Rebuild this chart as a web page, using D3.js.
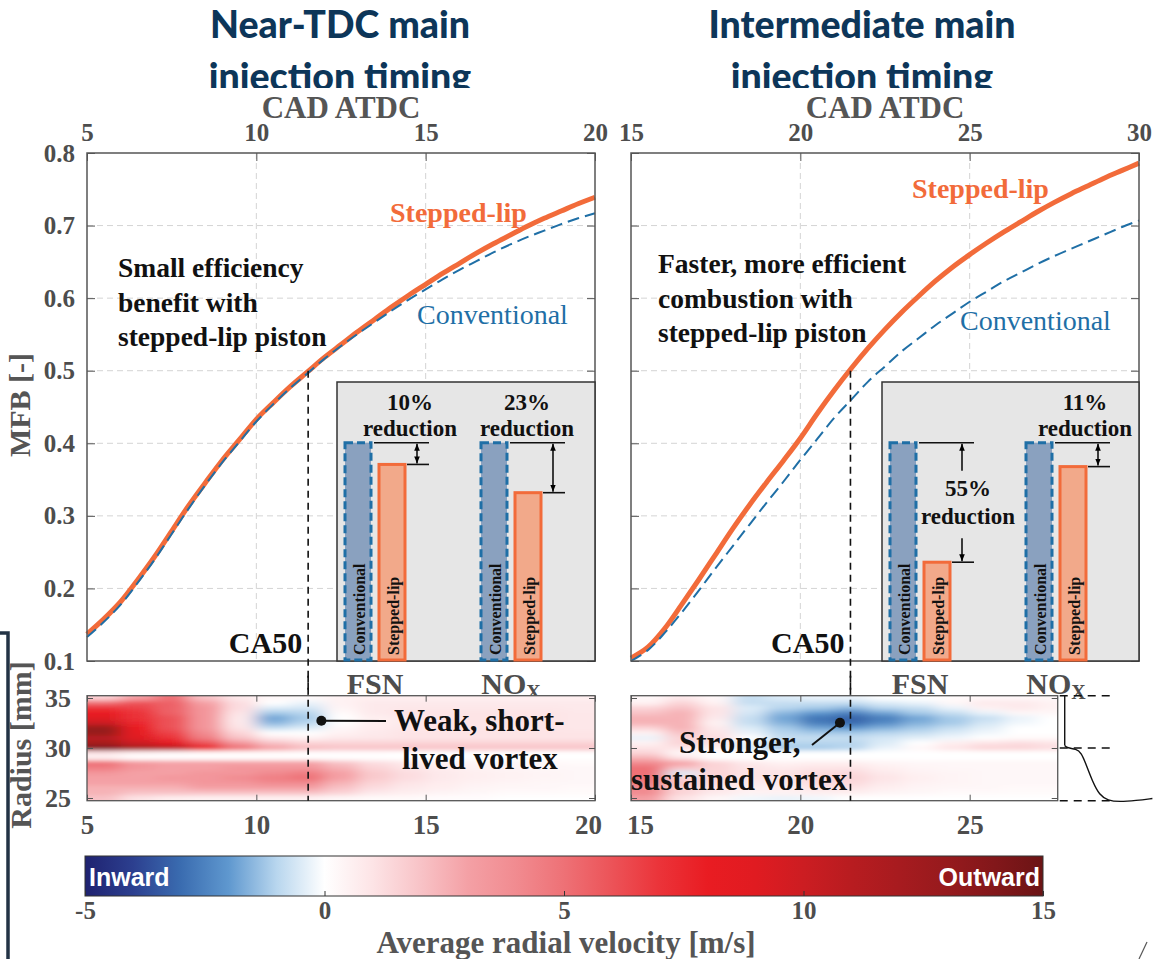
<!DOCTYPE html>
<html><head><meta charset="utf-8">
<script src="https://cdn.jsdelivr.net/npm/d3@7"></script>
<style>body{margin:0;background:#fff} svg{display:block}</style>
</head><body>
<svg id="c" width="1153" height="959"></svg>
<script>
// ---------------- DATA ----------------
const leftCad      = [5,5.5,6,6.5,7,7.5,8,8.5,9,9.5,10,10.5,11,11.5,12,12.5,13,13.5,14,14.5,15,15.5,16,16.5,17,17.5,18,18.5,19,19.5,20];
const leftStepped  = [0.137,0.158,0.182,0.212,0.244,0.279,0.314,0.346,0.377,0.405,0.433,0.456,0.478,0.498,0.518,0.536,0.554,0.571,0.588,0.604,0.619,0.634,0.648,0.662,0.675,0.687,0.699,0.710,0.720,0.730,0.739];
const leftConv     = [0.133,0.154,0.178,0.208,0.240,0.275,0.310,0.343,0.374,0.402,0.430,0.454,0.476,0.496,0.516,0.534,0.551,0.567,0.583,0.598,0.612,0.626,0.639,0.651,0.663,0.674,0.684,0.693,0.702,0.710,0.717];
const rightCad     = [15,15.5,16,16.5,17,17.5,18,18.5,19,19.5,20,20.5,21,21.5,22,22.5,23,23.5,24,24.5,25,25.5,26,26.5,27,27.5,28,28.5,29,29.5,30];
const rightStepped = [0.104,0.119,0.145,0.178,0.212,0.247,0.282,0.315,0.346,0.376,0.407,0.441,0.473,0.503,0.531,0.557,0.581,0.603,0.624,0.643,0.660,0.676,0.691,0.705,0.719,0.732,0.744,0.755,0.766,0.776,0.786];
const rightConv    = [0.100,0.115,0.139,0.167,0.197,0.228,0.258,0.288,0.318,0.347,0.377,0.406,0.435,0.460,0.485,0.506,0.527,0.545,0.563,0.579,0.595,0.609,0.623,0.635,0.647,0.658,0.668,0.678,0.688,0.698,0.707];
const leftTicks  = [5,10,15,20];
const rightTicks = [15,20,25,30];
const mfbTicks   = [0.1,0.2,0.3,0.4,0.5,0.6,0.7,0.8];
const ca50Left = 11.53, ca50Right = 21.48, ca50Value = 0.5;

const insetGroups = ["FSN","NOx"];
const insetSeries = ["Conventional","Stepped-lip"];
const leftInsetFSN  = [1, 0.90];
const leftInsetNOx  = [1, 0.77];
const rightInsetFSN = [1, 0.45];
const rightInsetNOx = [1, 0.89];

const radiusRows   = [35,34.5,34,33.5,33,32.5,32,31.5,31,30.5,30,29.5,29,28.5,28,27.5,27,26.5,26,25.5,25];
const radiusTicks  = [25,30,35];
const leftHeatCad  = [5.5,6.5,7.5,8.5,9.5,10.5,11.5,12.5,13.5,14.5,15.5,16.5,17.5,18.5,19.5];
const leftHeatVel = [
 [1.5,3,5,2,0.8,0.3,0.2,0.5,0.6,0.6,0.6,0.6,0.6,0.6,0.6],
 [5,6,5.5,3,1.2,0,-0.3,0.5,0.8,0.8,0.8,0.8,0.8,0.8,0.8],
 [7,6.5,5.5,3.5,1.2,-0.5,-0.6,0.4,0.8,0.9,0.9,0.9,0.9,0.9,0.8],
 [8,7,5.5,3.5,1,-1.2,-1,0.2,0.8,1,1,1,1,1,0.9],
 [9,7,6,3.5,0.8,-1.8,-1.2,0,0.6,0.8,1,1,1,1,0.9],
 [10,7.5,6,3.5,0.8,-1.5,-1,0,0.6,0.8,1,1,1,1,0.9],
 [13,8,6,3.5,1,-0.8,-0.5,0.3,0.7,0.9,1,1,1,1,0.9],
 [13,8.5,6.5,4,1.5,0,0,0.5,0.8,1,1,1,1,1,1],
 [11,9,7,4.5,2,0.8,0.5,0.8,0.9,1,1,1,1,1,1],
 [12,10,8.5,6,3.5,2,1.5,1.5,1.5,1.5,1.5,1.5,1.5,1.5,1.5],
 [14,12,11,8,5,3,2.2,2,2,2,2,2,2,2,2],
 [1,0.5,0.3,0.2,0.2,0.2,0.1,0.1,0.1,0,0,0,0,0,0],
 [0.5,0,0,0,0,0,0,0,0,0,0,0,0,0,0],
 [5,3.5,3,3,3,3,3,2,1.2,0.8,0.5,0.4,0.3,0.3,0.2],
 [4.5,3.5,3,3,3.5,3.5,3.5,2.5,1.5,1,0.7,0.5,0.4,0.3,0.3],
 [3.5,3,3,3.5,3.5,4,4.5,3,1.8,1.2,0.8,0.6,0.5,0.4,0.3],
 [3,3,3.5,3.5,4,4.5,5,3,1.8,1.2,0.8,0.6,0.5,0.4,0.3],
 [3,3,3,3.5,3.5,4,4,2.5,1.5,1,0.7,0.5,0.4,0.3,0.3],
 [2.5,2.5,2.5,3,3,3,3,2,1.2,0.8,0.6,0.4,0.3,0.3,0.2],
 [2.5,2,2,2,2,2,2,1.5,0.8,0.6,0.4,0.3,0.2,0.2,0.2],
 [2,1,0.6,0.5,0.5,0.5,0.5,0.3,0.2,0.2,0.1,0.1,0,0,0]
];
const rightHeatCad = [15.5,16.5,17.5,18.5,19.5,20.5,21.5,22.5,23.5,24.5,25.5,26.5,27.5];
const rightHeatVel = [
 [0.3,0.8,0.3,-0.8,-0.5,-0.3,-0.3,0,0,0.2,0.3,0.3,0.3],
 [0.5,1.5,0.5,-0.8,-0.8,-0.8,-0.8,-0.5,-0.3,0.3,0.8,0.8,0.5],
 [1.5,2,1,-0.5,-1,-1.2,-1.5,-1,-0.8,-0.3,0.5,0.8,0.5],
 [2,2.5,1,-0.6,-1.5,-2,-2.5,-1.8,-1.2,-0.8,-0.3,0.3,0.3],
 [2.5,2.5,0.8,-0.8,-1.8,-2.8,-3.2,-2.6,-1.8,-1.2,-0.8,-0.3,0],
 [2.5,2.5,0.5,-0.8,-1.6,-2.6,-3,-2.3,-1.6,-1.2,-0.6,-0.2,0],
 [1.5,2.5,0.8,-0.5,-1.2,-1.8,-2,-1.6,-1.2,-0.8,-0.4,0,0],
 [0.5,2,1,-0.3,-1,-1.2,-1.2,-1,-0.8,-0.5,-0.2,0,0],
 [-0.3,1.5,1.2,0,-0.8,-0.8,-0.8,-0.6,-0.4,-0.2,0,0.2,0.2],
 [0.5,1.5,1,-0.3,-1,-1,-1,-0.5,0,0.6,1,1.2,1],
 [1,1,0.5,-0.5,-1.2,-1.2,-1,-0.3,0.3,1,1.5,1.5,1.2],
 [1.5,0.3,0,0,0,0,0,0,0,0,0,0,0],
 [2.5,1,0,0,0,0,0,0,0,0,0,0,0],
 [4,3,1.5,0.8,0.5,0.6,0.6,0.4,0.3,0.3,0.3,0.3,0.3],
 [5,2,1.5,1,0.8,1,1,0.6,0.4,0.3,0.3,0.3,0.3],
 [5,-0.5,1.5,1,1,1.2,1.3,0.8,0.5,0.4,0.3,0.3,0.3],
 [5,1.5,1.5,1,1,1.5,1.5,1,0.6,0.4,0.3,0.3,0.3],
 [4.5,2,1.2,0.8,0.8,1.2,1.3,0.8,0.5,0.4,0.3,0.3,0.3],
 [4,1.5,1,0.6,0.6,1,1,0.6,0.4,0.3,0.3,0.2,0.2],
 [4,1.5,0.8,0.5,0.5,0.6,0.6,0.4,0.3,0.2,0.2,0.2,0.2],
 [3,1,0.3,-0.2,-0.3,-0.2,0,0,0,0,0,0,0]
];
const heatTicksLeft  = [5,10,15,20];
const heatTicksRight = [15,20,25];

const velStops  = [-5,-4,-3,-2,-1,0,1,2,3,4,5,6,7,8,9,10,11,12,13,14,15];
const velColors = ["#1f2270","#2c3f8f","#3a6cb0","#5f98cf","#b8d6ee","#ffffff","#fde4e6","#f8c3c7","#f4a0a5","#f18b90","#ee7176","#ec5358","#eb3339","#e91c22","#e01b21","#cc1d22","#b81c20","#a71b1f","#961a1d","#82171a","#6b1415"];
const cbarTicks = [-5,0,5,10,15];

const profileDepth  = [0,0,0.34,1.43,2.05,2.68,3.5,4.34,5.38,6.84,8.93,10.96];
const profileRadius = [35.23,30.25,30.0,29.9,29.55,28.35,26.6,25.3,24.75,24.62,24.75,24.95];
const profileGuides = [35.23,30,24.73];

// ---------------- LAYOUT / STYLE ----------------
const svg = d3.select("#c");
const SERIF = "'Liberation Serif','Times New Roman',serif";
const GRAY = "#4d4d4d";
const ORANGE = "#f26b3a", BLUE = "#1f6fa6";
const TOP = 153, BOT = 661;
const HT = 695.7, HB = 800.7;

const yM = d3.scaleLinear([0.1,0.8],[BOT,TOP]);
const yR = d3.scaleLinear([24.73,35.23],[HB,HT]);
const color = d3.scaleLinear(velStops, velColors).clamp(true);

const defs = svg.append("defs");
defs.append("clipPath").attr("id","titleClip").append("rect").attr("x",0).attr("y",0).attr("width",1153).attr("height",88);
const blur = defs.append("filter").attr("id","blur").attr("filterUnits","userSpaceOnUse")
  .attr("x",0).attr("y",600).attr("width",1153).attr("height",300);
blur.append("feGaussianBlur").attr("stdDeviation","9 2");
const mk = defs.append("marker").attr("id","arr").attr("viewBox","0 0 10 10").attr("refX",10).attr("refY",5)
  .attr("markerWidth",7).attr("markerHeight",7).attr("orient","auto-start-reverse").attr("markerUnits","userSpaceOnUse");
mk.append("path").attr("d","M0,1 L10,5 L0,9 Z").attr("fill","#000");

function text(g, x, y, s, o={}) {
  return g.append("text").attr("x",x).attr("y",y).text(s)
    .attr("font-family", o.family || SERIF).attr("font-size", o.size || 24)
    .attr("font-weight", o.weight || "bold").attr("fill", o.fill || GRAY)
    .attr("text-anchor", o.anchor || "start");
}
const intFmt = d => String(d);

// titles (second line clipped at the bottom as in the source figure)
const tg = svg.append("g").attr("clip-path","url(#titleClip)");
const TF = {family:"Lato,'Open Sans',sans-serif", size:37.5, fill:"#0d3659", anchor:"middle", weight:"900"};
text(tg, 340, 38, "Near-TDC main", TF);
text(tg, 340, 90, "injection timing", TF);
text(tg, 862, 38, "Intermediate main", TF);
text(tg, 862, 90, "injection timing", TF);

// left bracket line & corner mark
svg.append("path").attr("d","M0,633 H8 V959").attr("fill","none").attr("stroke","#233345").attr("stroke-width",3.5);
svg.append("line").attr("x1",1139).attr("y1",959).attr("x2",1147).attr("y2",942).attr("stroke","#555").attr("stroke-width",1.2);

// ---------------- MFB PANELS ----------------
function mfbPanel(cfg) {
  const x = d3.scaleLinear(cfg.dom, cfg.range);
  const g = svg.append("g");
  cfg.ticks.slice(1,-1).forEach(t => g.append("line").attr("x1",x(t)).attr("x2",x(t)).attr("y1",TOP).attr("y2",BOT)
    .attr("stroke","#d4d4d4").attr("stroke-dasharray","6,4"));
  mfbTicks.slice(1,-1).forEach(t => g.append("line").attr("x1",cfg.range[0]).attr("x2",cfg.range[1]).attr("y1",yM(t)).attr("y2",yM(t))
    .attr("stroke","#d4d4d4").attr("stroke-dasharray","6,4"));
  const ax = g.append("g").attr("transform",`translate(0,${TOP})`)
    .call(d3.axisTop(x).tickValues(cfg.ticks).tickSize(-8).tickPadding(12).tickFormat(intFmt));
  ax.select(".domain").remove();
  ax.selectAll("line").attr("stroke","#555");
  ax.selectAll("text").attr("font-family",SERIF).attr("font-weight","bold").attr("font-size",25).attr("fill",GRAY);
  const ayl = g.append("g").attr("transform",`translate(${cfg.range[0]},0)`)
    .call(d3.axisLeft(yM).tickValues(mfbTicks).tickSize(-8).tickPadding(12).tickFormat(d3.format(".1f")));
  ayl.select(".domain").remove();
  ayl.selectAll("line").attr("stroke","#555");
  ayl.selectAll("text").attr("font-family",SERIF).attr("font-weight","bold").attr("font-size",25).attr("fill",GRAY)
    .style("display", cfg.showY ? null : "none");
  const ayr = g.append("g").attr("transform",`translate(${cfg.range[1]},0)`)
    .call(d3.axisRight(yM).tickValues(mfbTicks).tickSize(-8).tickFormat(""));
  ayr.select(".domain").remove();
  ayr.selectAll("line").attr("stroke","#555");
  text(g, (cfg.range[0]+cfg.range[1])/2, 118, "CAD ATDC", {size:31, anchor:"middle", fill:"#555"});
  const line = d3.line().x(d=>x(d[0])).y(d=>yM(d[1])).curve(d3.curveCatmullRom.alpha(0.5));
  g.append("path").attr("d", line(d3.zip(cfg.cad, cfg.stepped))).attr("fill","none").attr("stroke",ORANGE).attr("stroke-width",5);
  g.append("path").attr("d", line(d3.zip(cfg.cad, cfg.conv))).attr("fill","none").attr("stroke",BLUE).attr("stroke-width",2).attr("stroke-dasharray","12,6");
  g.append("rect").attr("x",cfg.range[0]).attr("y",TOP).attr("width",cfg.range[1]-cfg.range[0]).attr("height",BOT-TOP)
    .attr("fill","none").attr("stroke","#555").attr("stroke-width",1.5);
  text(g, cfg.stepLab[0], cfg.stepLab[1], "Stepped-lip", {size:28, fill:ORANGE});
  text(g, cfg.convLab[0], cfg.convLab[1], "Conventional", {size:28, weight:"normal", fill:BLUE});
  cfg.note.forEach((s,i)=> text(g, cfg.noteX, cfg.noteY + i*34.5, s, {size:27.5, fill:"#111"}));
  g.append("line").attr("x1",x(cfg.ca50)).attr("x2",x(cfg.ca50)).attr("y1",yM(ca50Value)).attr("y2",HB)
    .attr("stroke","#111").attr("stroke-width",1.6).attr("stroke-dasharray","7,5");
  text(g, x(cfg.ca50)-6, 653, "CA50", {size:30, anchor:"end", fill:"#111"});
  // inset
  const bx0 = cfg.insetX, bx1 = cfg.range[1], by0 = 382;
  g.append("rect").attr("x",bx0).attr("y",by0).attr("width",bx1-bx0).attr("height",BOT-by0)
    .attr("fill","#e6e6e6").attr("stroke","#333").attr("stroke-width",1.5);
  const gx = d3.scaleBand(insetGroups, [bx0+8, bx0+8+196]).paddingInner(76/136).paddingOuter(0);
  const sx = d3.scaleBand(insetSeries, [0, gx.bandwidth()]).paddingInner(8/34).paddingOuter(0);
  const yI = d3.scaleLinear([0,1],[BOT-1,442.7]);
  cfg.inset.forEach((vals, gi) => {
    const grp = insetGroups[gi];
    vals.forEach((v, si) => {
      const bxl = gx(grp) + sx(insetSeries[si]);
      g.append("rect").attr("x",bxl).attr("y",yI(v)).attr("width",sx.bandwidth()).attr("height",yI(0)-yI(v))
        .attr("fill", si===0 ? "#8aa1bf" : "#f2a98a")
        .attr("stroke", si===0 ? BLUE : ORANGE).attr("stroke-width",3)
        .attr("stroke-dasharray", si===0 ? "8,4" : null);
      const cx = bxl + sx.bandwidth()/2;
      g.append("text").attr("transform",`translate(${cx+1},${BOT-6}) rotate(-90)`).text(insetSeries[si])
        .attr("font-family",SERIF).attr("font-weight","bold").attr("font-size",16).attr("fill","#111")
        .attr("dominant-baseline","central");
    });
    const convR = gx(grp) + sx(insetSeries[0]) + sx.bandwidth();
    const stepR = gx(grp) + sx(insetSeries[1]) + sx.bandwidth();
    const yTop = yI(vals[0]), yBot = yI(vals[1]), xEnd = stepR + 24, ax2 = stepR + 12;
    g.append("line").attr("x1",convR+3).attr("x2",xEnd).attr("y1",yTop).attr("y2",yTop).attr("stroke","#111").attr("stroke-width",1.6);
    g.append("line").attr("x1",stepR+2).attr("x2",xEnd).attr("y1",yBot).attr("y2",yBot).attr("stroke","#111").attr("stroke-width",1.6);
    const pct = Math.round((1 - vals[1]/vals[0]) * 100) + "%";
    const a = cfg.annot[gi];
    if (a.split) {
      g.append("line").attr("x1",ax2).attr("x2",ax2).attr("y1",yTop+28).attr("y2",yTop+1).attr("stroke","#111").attr("stroke-width",1.6).attr("marker-end","url(#arr)");
      g.append("line").attr("x1",ax2).attr("x2",ax2).attr("y1",yBot-24).attr("y2",yBot-1).attr("stroke","#111").attr("stroke-width",1.6).attr("marker-end","url(#arr)");
    } else {
      g.append("line").attr("x1",ax2).attr("x2",ax2).attr("y1",yTop+1).attr("y2",yBot-1).attr("stroke","#111").attr("stroke-width",1.6)
        .attr("marker-start","url(#arr)").attr("marker-end","url(#arr)");
    }
    text(g, a.x, a.y1, pct, {size:23, anchor:"middle", fill:"#111"});
    text(g, a.x, a.y2, "reduction", {size:23, anchor:"middle", fill:"#111"});
    const gc = gx(grp) + gx.bandwidth()/2;
    const gl = text(g, gc, 694, grp === "NOx" ? "NO" : grp, {size:30, anchor:"middle", fill:GRAY});
    if (grp === "NOx") gl.append("tspan").text("X").attr("font-size",20).attr("dy",5);
  });
  return x;
}

mfbPanel({dom:[5,20], range:[87,595], ticks:leftTicks, showY:true, cad:leftCad, stepped:leftStepped, conv:leftConv,
  stepLab:[390,222], convLab:[417,324], noteX:118, noteY:277,
  note:["Small efficiency","benefit with","stepped-lip piston"], ca50:ca50Left, insetX:337,
  inset:[leftInsetFSN, leftInsetNOx],
  annot:[{x:410,y1:410,y2:436},{x:527,y1:410,y2:436}]});
mfbPanel({dom:[15,30], range:[631,1139], ticks:rightTicks, showY:false, cad:rightCad, stepped:rightStepped, conv:rightConv,
  stepLab:[912,198], convLab:[960,330], noteX:658, noteY:273,
  note:["Faster, more efficient","combustion with","stepped-lip piston"], ca50:ca50Right, insetX:882,
  inset:[rightInsetFSN, rightInsetNOx],
  annot:[{x:968,y1:496,y2:524, split:true},{x:1085,y1:410,y2:436}]});

svg.append("text").attr("transform","translate(30,405) rotate(-90)").text("MFB [-]")
  .attr("font-family",SERIF).attr("font-weight","bold").attr("font-size",30).attr("fill","#555").attr("text-anchor","middle");
svg.append("text").attr("transform","translate(31,745) rotate(-90)").text("Radius [mm]")
  .attr("font-family",SERIF).attr("font-weight","bold").attr("font-size",30).attr("fill","#555").attr("text-anchor","middle");

// ---------------- HEATMAPS ----------------
function heatPanel(cfg) {
  const x = d3.scaleLinear(cfg.dom, cfg.range);
  const g = svg.append("g");
  const id = "hc" + cfg.range[0];
  defs.append("clipPath").attr("id",id).append("rect").attr("x",cfg.range[0]).attr("y",HT)
    .attr("width",x(cfg.xmax)-cfg.range[0]).attr("height",HB-HT);
  const hg = g.append("g").attr("clip-path",`url(#${id})`).append("g").attr("filter","url(#blur)");
  radiusRows.forEach((r,i) => cfg.cads.forEach((c,j) => {
    let xa = c-0.5, xb = c+0.5, ya = r+0.25, yb = r-0.25;
    if (j===0) xa -= 2; if (j===cfg.cads.length-1) xb += 2;
    if (i===0) ya += 2; if (i===radiusRows.length-1) yb -= 2;
    hg.append("rect").attr("x",x(xa)).attr("y",yR(ya)).attr("width",x(xb)-x(xa)+0.6).attr("height",yR(yb)-yR(ya)+0.6)
      .attr("fill",color(cfg.vals[i][j]));
  }));
  const x1 = x(cfg.xmax);
  const ab = g.append("g").attr("transform",`translate(0,${HB})`)
    .call(d3.axisBottom(x).tickValues(cfg.ticks).tickSize(-6).tickPadding(14).tickFormat(intFmt));
  ab.select(".domain").remove(); ab.selectAll("line").attr("stroke","#555");
  ab.selectAll("text").attr("font-family",SERIF).attr("font-weight","bold").attr("font-size",27).attr("fill",GRAY)
    .attr("dx", (d,i,n) => (i===0 ? cfg.firstDx : i===n.length-1 ? cfg.lastDx : 0));
  const at = g.append("g").attr("transform",`translate(0,${HT})`)
    .call(d3.axisTop(x).tickValues(cfg.ticks).tickSize(-6).tickFormat(""));
  at.select(".domain").remove(); at.selectAll("line").attr("stroke","#555");
  const al = g.append("g").attr("transform",`translate(${cfg.range[0]},0)`)
    .call(d3.axisLeft(yR).tickValues(radiusTicks).tickSize(-6).tickPadding(16).tickFormat(intFmt));
  al.select(".domain").remove(); al.selectAll("line").attr("stroke","#555");
  al.selectAll("text").attr("font-family",SERIF).attr("font-weight","bold").attr("font-size",26).attr("fill",GRAY)
    .style("display", cfg.showY ? null : "none");
  const ar = g.append("g").attr("transform",`translate(${x1},0)`)
    .call(d3.axisRight(yR).tickValues(radiusTicks).tickSize(-6).tickFormat(""));
  ar.select(".domain").remove(); ar.selectAll("line").attr("stroke","#555");
  g.append("rect").attr("x",cfg.range[0]).attr("y",HT).attr("width",x1-cfg.range[0]).attr("height",HB-HT)
    .attr("fill","none").attr("stroke","#555").attr("stroke-width",1.3);
  g.append("line").attr("x1",x(cfg.ca50)).attr("x2",x(cfg.ca50)).attr("y1",HT-20).attr("y2",HB)
    .attr("stroke","#111").attr("stroke-width",1.6).attr("stroke-dasharray","7,5");
  const d = cfg.dot;
  g.append("line").attr("x1",x(d[0])).attr("y1",yR(d[1])).attr("x2",cfg.lineEnd[0]).attr("y2",cfg.lineEnd[1]).attr("stroke","#111").attr("stroke-width",2);
  g.append("circle").attr("cx",x(d[0])).attr("cy",yR(d[1])).attr("r",5).attr("fill","#111");
  cfg.lab.forEach(l => text(g, l[0], l[1], l[2], {size:31, fill:"#111"}));
  return x;
}
heatPanel({dom:[5,20], range:[87,595], xmax:20, cads:leftHeatCad, vals:leftHeatVel, ticks:heatTicksLeft, showY:true, firstDx:0, lastDx:-7,
  ca50:ca50Left, dot:[11.92,32.73], lineEnd:[386,721], lab:[[394,731,"Weak, short-"],[402,769,"lived vortex"]]});
const xHR = heatPanel({dom:[15,30], range:[631,1139], xmax:27.6, cads:rightHeatCad, vals:rightHeatVel, ticks:heatTicksRight, showY:false, firstDx:9, lastDx:0,
  ca50:ca50Right, dot:[21.17,32.53], lineEnd:[812,745], lab:[[679,753,"Stronger,"],[631,790,"sustained vortex"]]});

// piston profile sketch
const px0 = xHR(27.6) + 7;
const xP = d3.scaleLinear([0,11],[px0, px0+88]);
profileGuides.forEach(r => svg.append("line").attr("x1",xHR(27.6)+2).attr("x2",xHR(27.6)+54).attr("y1",yR(r)).attr("y2",yR(r))
  .attr("stroke","#111").attr("stroke-width",1.6).attr("stroke-dasharray","8,6"));
svg.append("path").attr("d", d3.line().x(d=>xP(d[0])).y(d=>yR(d[1]))(d3.zip(profileDepth.slice(0,2), profileRadius.slice(0,2))))
  .attr("stroke","#111").attr("fill","none").attr("stroke-width",1.4);
svg.append("path").attr("d", d3.line().x(d=>xP(d[0])).y(d=>yR(d[1])).curve(d3.curveBasis)(d3.zip(profileDepth.slice(1), profileRadius.slice(1))))
  .attr("stroke","#111").attr("fill","none").attr("stroke-width",1.4);

// ---------------- COLORBAR ----------------
const xc = d3.scaleLinear([-5,15],[85,1043]);
const grad = defs.append("linearGradient").attr("id","cb");
velStops.forEach((v,i)=> grad.append("stop").attr("offset",(v+5)/20).attr("stop-color",velColors[i]));
svg.append("rect").attr("x",85).attr("y",856).attr("width",958).attr("height",40).attr("fill","url(#cb)").attr("stroke","#333").attr("stroke-width",1);
const cb = svg.append("g").attr("transform","translate(0,896)")
  .call(d3.axisBottom(xc).tickValues(cbarTicks).tickSize(-5).tickPadding(5).tickFormat(intFmt));
cb.select(".domain").remove(); cb.selectAll("line").attr("stroke","#333");
cb.selectAll("text").attr("font-family",SERIF).attr("font-weight","bold").attr("font-size",25).attr("fill",GRAY);
text(svg, 566, 953, "Average radial velocity [m/s]", {size:31, anchor:"middle", fill:"#555"});
text(svg, 89, 886, "Inward", {family:"'Liberation Sans',Arial,sans-serif", size:25, fill:"#fff"});
text(svg, 1040, 886, "Outward", {family:"'Liberation Sans',Arial,sans-serif", size:25, fill:"#fff", anchor:"end"});
</script>
</body></html>
